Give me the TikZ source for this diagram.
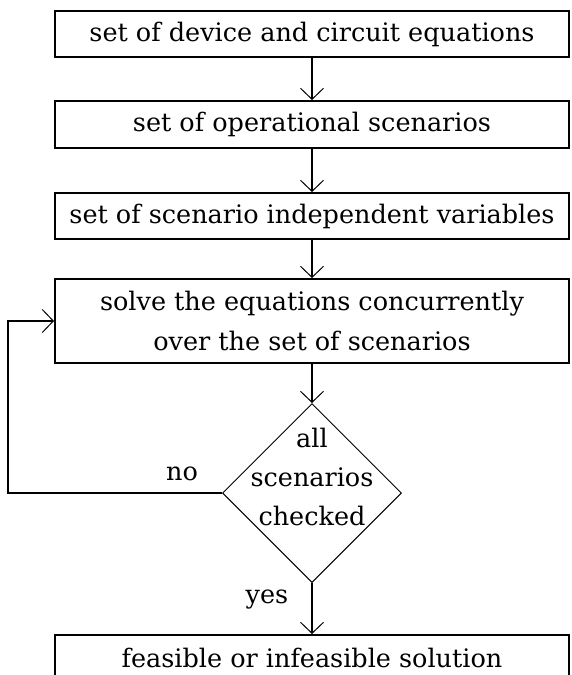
\documentclass[tikz,border=0pt]{standalone}
\usepackage{fontspec}
\setmainfont{DejaVu Serif}
\usetikzlibrary{shapes.geometric,arrows.meta}
\begin{document}
\begin{tikzpicture}[x=1pt,y=-1pt,
  box/.style={draw,line width=2pt,minimum width=514pt,inner sep=0pt,font=\fontsize{25.5}{40}\selectfont,align=center},
  lbl/.style={font=\fontsize{25.5}{39}\selectfont,inner sep=0pt,align=center},
  arr/.style={line width=1.4pt,-{Straight Barb[length=11pt,width=23pt,line width=1pt]}},
  link/.style={line width=1.4pt}]
\clip (0,0) rectangle (571,675);
\fill[white] (0,0) rectangle (571,675);
\node[box,minimum height=46pt] (b1) at (312,34) {set of device and circuit equations};
\node[box,minimum height=47pt] (b2) at (312,124.5) {set of operational scenarios};
\node[box,minimum height=46pt] (b3) at (312,216) {set of scenario independent variables};
\node[box,minimum height=84pt] (b4) at (312,321) {solve the equations concurrently\\over the set of scenarios};
\node[draw,diamond,line width=1pt,minimum width=179pt,minimum height=179pt,inner sep=0pt,aspect=1] (d) at (312,493) {};
\node[lbl] (dt) at (312,477) {all\\scenarios\\checked};
\node[box,minimum height=46pt] (b5) at (312,658) {feasible or infeasible solution};
\coordinate (lc) at (8,493);
\draw[arr] (b1) -- (b2);
\draw[arr] (b2) -- (b3);
\draw[arr] (b3) -- (b4);
\draw[arr] (b4) -- (d);
\draw[arr] (d) -- (b5);
\draw[arr] (d.west) -- (lc) |- (b4.west);
\node[lbl] (no) at (182,474) {no};
\node[lbl] (yes) at (267,600) {yes};
\end{tikzpicture}
\end{document}
